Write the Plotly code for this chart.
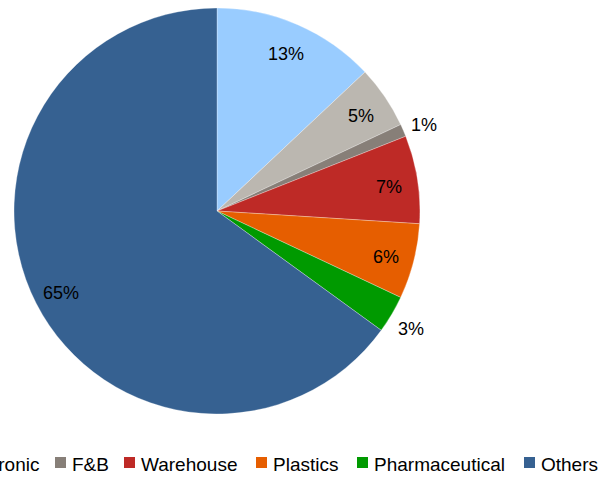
import math
import plotly.graph_objects as go

# Share of sales by sector
sectors = ["Automotive", "Electronic", "F&B", "Warehouse", "Plastics", "Pharmaceutical", "Others"]
shares = [13, 5, 1, 7, 6, 3, 65]
colors = ["#99CCFF", "#BBB7B0", "#877F78", "#BE2A26", "#E65E00", "#009A00", "#366191"]
label_outside = [False, False, True, False, False, True, False]

W, H = 613, 477
FONT = "Liberation Sans, Arial, sans-serif"

# Pie placement (pixels)
CX, CY, R = 217, 211, 203

fig = go.Figure(
    go.Pie(
        labels=sectors,
        values=shares,
        marker=dict(colors=colors, line=dict(color="white", width=0.3)),
        sort=False,
        direction="clockwise",
        rotation=0,
        textinfo="none",
        hoverinfo="label+percent",
        showlegend=False,
        domain=dict(x=[(CX - R) / W, (CX + R) / W], y=[1 - (CY + R) / H, 1 - (CY - R) / H]),
    )
)

annotations, shapes = [], []

# Percentage labels placed at the middle angle of each slice
total = sum(shares)
cum = 0.0
for v, outside in zip(shares, label_outside):
    mid = (cum + v / 2) / total * 2 * math.pi
    cum += v
    r = R * (1.11 if outside else 0.86)
    px = CX + r * math.sin(mid)
    py = CY - r * math.cos(mid) + 3
    annotations.append(dict(xref="paper", yref="paper", x=px / W, y=1 - py / H,
                            xanchor="center", yanchor="middle", showarrow=False,
                            text=f"{v / total:.0%}",
                            font=dict(family=FONT, size=18, color="black")))

# Legend row along the bottom edge; it runs wider than the page,
# so the first entries fall off the left side.
legend_x = [-205, -61, 55, 124, 256, 357, 524]
legend_y = 462.5
box = 11
for name, col, x0 in zip(sectors, colors, legend_x):
    shapes.append(dict(type="rect", xref="paper", yref="paper",
                       x0=x0 / W, x1=(x0 + box) / W,
                       y0=1 - (legend_y + box / 2) / H, y1=1 - (legend_y - box / 2) / H,
                       fillcolor=col, line=dict(width=0)))
    annotations.append(dict(xref="paper", yref="paper", x=(x0 + box + 4) / W,
                            y=1 - (legend_y + 1.5) / H, xanchor="left", yanchor="middle",
                            text=name, showarrow=False,
                            font=dict(family=FONT, size=19, color="black")))

fig.update_layout(
    width=W, height=H,
    margin=dict(l=0, r=0, t=0, b=0),
    paper_bgcolor="white", plot_bgcolor="white",
    shapes=shapes, annotations=annotations,
)

fig.write_html("out.html")
